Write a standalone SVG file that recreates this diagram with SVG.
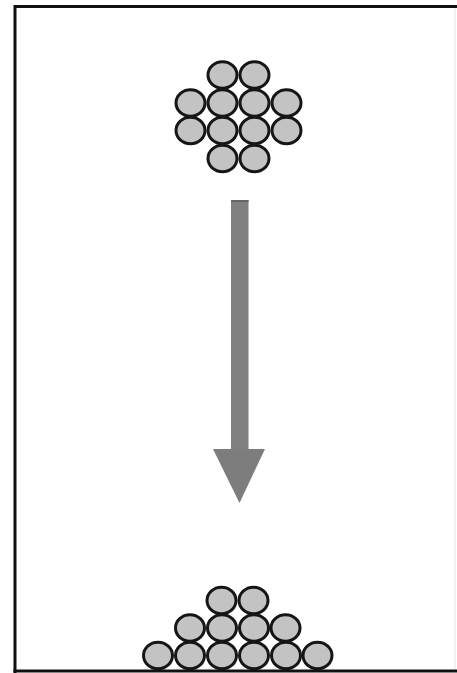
<svg xmlns="http://www.w3.org/2000/svg" width="457" height="673" viewBox="0 0 457 673">
<style>
.b{fill:#c3c3c3;stroke:#151515;stroke-width:3}
.frame{stroke:#111;stroke-width:3;fill:none}
</style>
<defs>
<ellipse id="ball" class="b" rx="14.5" ry="13.2"/>
</defs>
<rect width="457" height="673" fill="#fff"/>
<g id="frame">
<line class="frame" x1="15" y1="6.5" x2="457" y2="6.5"/>
<line class="frame" x1="15" y1="5" x2="15" y2="673"/>
<line class="frame" x1="13.5" y1="671" x2="457" y2="671"/>
<line x1="455" y1="8" x2="455" y2="669" stroke="#e4e4e4" stroke-width="1"/>
</g>
<g id="cluster-top">
<use href="#ball" x="222.5" y="75"/>
<use href="#ball" x="254.5" y="75"/>
<use href="#ball" x="190.5" y="103"/>
<use href="#ball" x="222.5" y="103"/>
<use href="#ball" x="254.5" y="103"/>
<use href="#ball" x="286.5" y="103"/>
<use href="#ball" x="190.5" y="130.5"/>
<use href="#ball" x="222.5" y="130.5"/>
<use href="#ball" x="254.5" y="130.5"/>
<use href="#ball" x="286.5" y="130.5"/>
<use href="#ball" x="222.5" y="158.5"/>
<use href="#ball" x="254.5" y="158.5"/>
</g>
<g id="arrow">
<rect x="231" y="200" width="17.5" height="252" fill="#808080"/>
<rect x="231" y="200" width="17.5" height="2" fill="#666"/>
<polygon points="213,449 265,449 239.5,503" fill="#7d7d7d"/>
</g>
<g id="pile-bottom">
<use href="#ball" x="221.5" y="600.5"/>
<use href="#ball" x="253.5" y="600.5"/>
<use href="#ball" x="190" y="628"/>
<use href="#ball" x="222" y="628"/>
<use href="#ball" x="254" y="628"/>
<use href="#ball" x="285.5" y="628"/>
<use href="#ball" x="158" y="655.5"/>
<use href="#ball" x="190" y="655.5"/>
<use href="#ball" x="222" y="655.5"/>
<use href="#ball" x="254" y="655.5"/>
<use href="#ball" x="286" y="655.5"/>
<use href="#ball" x="317.5" y="655.5"/>
</g>
</svg>
